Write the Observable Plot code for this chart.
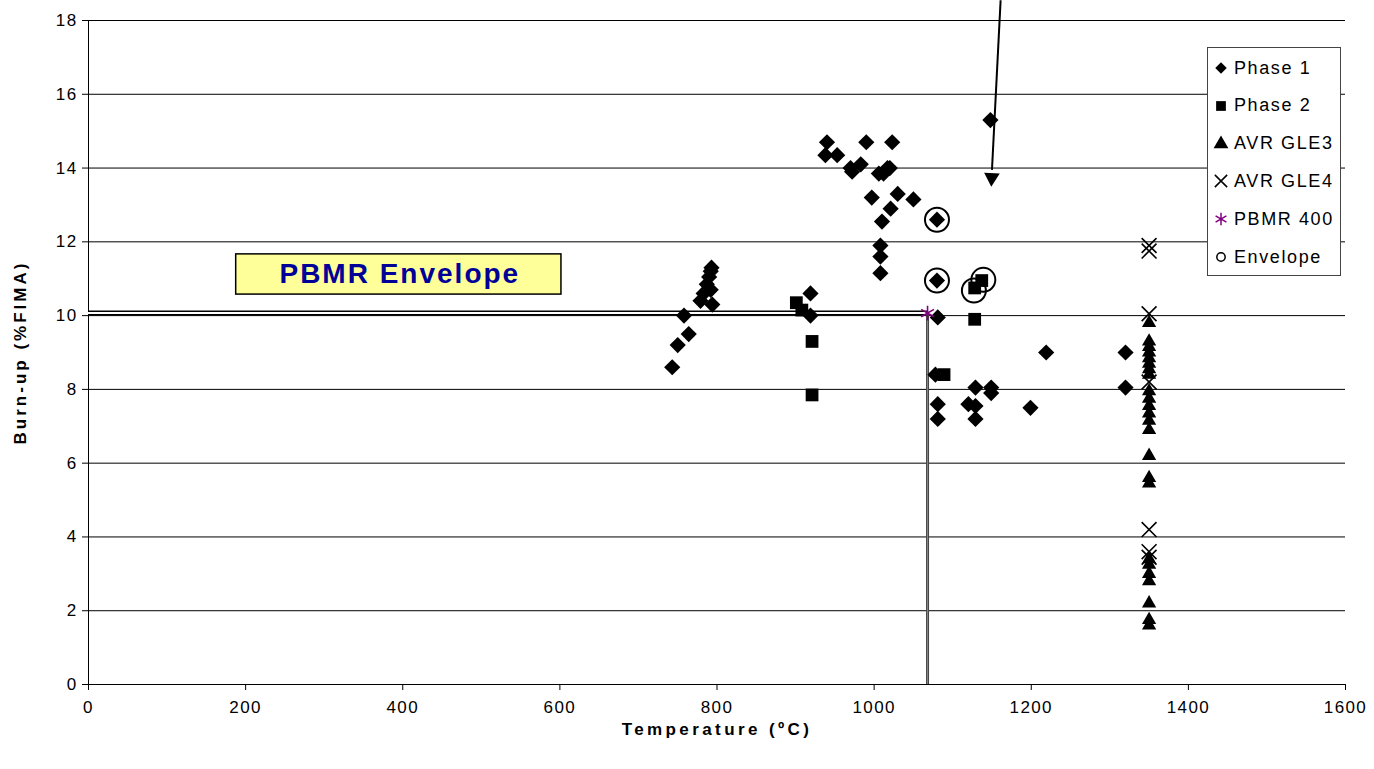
<!DOCTYPE html>
<html><head><meta charset="utf-8">
<script src="https://cdn.jsdelivr.net/npm/d3@7"></script>
<script src="https://cdn.jsdelivr.net/npm/@observablehq/plot@0.6"></script>
<style>
body{margin:0;background:#fff;font-family:"Liberation Sans",Arial,sans-serif;}
#wrap{position:relative;width:1374px;height:769px;overflow:hidden;}
#legend{position:absolute;left:1207px;top:47px;width:134px;height:229px;border:1px solid #444;background:#fff;box-sizing:border-box;}
.li{position:absolute;left:6px;height:20px;display:flex;align-items:center;font-size:18px;letter-spacing:1.6px;color:#000;white-space:nowrap;}
.li svg{margin-right:6px;overflow:visible;}
</style></head><body><div id="wrap"></div>
<script>
// ---- data (temperature °C, burn-up %FIMA) ----
const xTicks = [0, 200, 400, 600, 800, 1000, 1200, 1400, 1600];
const yTicks = [0, 2, 4, 6, 8, 10, 12, 14, 16, 18];
const seriesNames = ["Phase 1", "Phase 2", "AVR GLE3", "AVR GLE4", "PBMR 400", "Envelope"];

const phase1 = [
  [743, 8.6], [750, 9.2], [764, 9.5], [758, 10.0], [779, 10.4], [794, 10.3],
  [783, 10.6], [792, 10.7], [787, 10.85], [790, 11.05], [792, 11.2], [793, 11.3],
  [919, 10.6], [919, 10.0],
  [940, 14.7], [990, 14.7], [1023, 14.7], [938, 14.35], [953, 14.35], [970, 14.0],
  [972, 13.9], [983, 14.1], [1006, 13.85], [1017, 14.0], [1020, 14.0], [1012, 13.85],
  [997, 13.2], [1030, 13.3], [1050, 13.15], [1021, 12.9], [1010, 12.55],
  [1008, 11.9], [1008, 11.6], [1008, 11.15],
  [1080, 12.6], [1080, 10.95], [1081, 9.95], [1078, 8.4], [1081, 7.6], [1081, 7.2],
  [1120, 7.6], [1129, 7.55], [1129, 7.2], [1129, 8.05], [1149, 8.05], [1149, 7.9],
  [1199, 7.5], [1219, 9.0], [1148, 15.3], [1320, 9.0], [1320, 8.05]
];
const phase2 = [
  [901, 10.35], [908, 10.15], [921, 9.3], [921, 7.85], [1089, 8.4],
  [1128, 9.9], [1128, 10.75], [1137, 10.95]
];
const gle3Temp = 1350;
const gle3Burnup = [9.8, 9.3, 9.15, 9.0, 8.85, 8.7, 8.55, 8.4, 7.95, 7.75, 7.55, 7.35,
  7.15, 6.9, 6.2, 5.6, 5.45, 3.4, 3.25, 3.0, 2.8, 2.2, 1.75, 1.6];
const gle4Temp = 1350;
const gle4Burnup = [11.9, 11.75, 10.05, 8.2, 4.2, 3.6, 3.45];
const pbmr400 = [[1068, 10.07]];
const envelope = [[1080, 12.6], [1080, 10.95], [1127, 10.68], [1139, 10.97]];

// ---- chart ----
const font = '"Liberation Sans", Arial, sans-serif';
const chart = Plot.plot({
  width: 1374, height: 769,
  marginTop: 20, marginBottom: 85, marginLeft: 88, marginRight: 29,
  style: {fontFamily: font, fontSize: "16px", color: "#000", background: "#fff", overflow: "visible"},
  x: {domain: [0, 1600]},
  y: {domain: [0, 18]},
  marks: [
    Plot.gridY(yTicks, {stroke: "#000", strokeOpacity: 1, strokeWidth: 1}),
    Plot.axisY(yTicks, {tickSize: 6, tickPadding: 5, label: null, fontSize: 17, tickFormat: d => String(d)}),
    Plot.axisX(xTicks, {tickSize: 6, tickPadding: 10, label: null, fontSize: 17, tickFormat: d => String(d)}),
    Plot.ruleX([0], {stroke: "#000"}),
    Plot.ruleY([0], {stroke: "#000"}),
    // PBMR envelope boundary (double lines)
    Plot.ruleY(pbmr400, {y: d => d[1], x1: 0, x2: d => d[0], stroke: "#000", strokeWidth: 5}),
    Plot.ruleY(pbmr400, {y: d => d[1], x1: 0, x2: d => d[0], stroke: "#fff", strokeWidth: 2}),
    Plot.ruleX(pbmr400, {x: d => d[0], y1: 0, y2: d => d[1], stroke: "#444", strokeWidth: 3}),
    Plot.ruleX(pbmr400, {x: d => d[0], y1: 0, y2: d => d[1], stroke: "#888", strokeWidth: 1}),
    // label box
    Plot.rect([0], {x1: 188, x2: 602, y1: 10.57, y2: 11.66, fill: "#ffff99", stroke: "#000", strokeWidth: 1.5}),
    Plot.text(["PBMR Envelope"], {x: 395, y: 11.115, fontSize: 28, fontWeight: "bold", fill: "#000099", dx: 1}),
    // series
    Plot.dot(phase1, {x: d => d[0], y: d => d[1], symbol: "diamond2", r: 7.3, fill: "#000", stroke: "none"}),
    Plot.dot(phase2, {x: d => d[0], y: d => d[1], symbol: "square", r: 7.2, fill: "#000", stroke: "none"}),
    Plot.dot(gle3Burnup, {x: () => gle3Temp, y: d => d, symbol: "triangle", r: 5.3, fill: "#000", stroke: "none"}),
    Plot.dot(gle4Burnup, {x: () => gle4Temp, y: d => d, symbol: "times", r: 6.8, stroke: "#000", strokeWidth: 1.6}),
    Plot.dot(pbmr400, {x: d => d[0], y: d => d[1], symbol: "asterisk", r: 7, stroke: "#800080", strokeWidth: 1.6}),
    Plot.dot(envelope, {x: d => d[0], y: d => d[1], symbol: "circle", r: 12, stroke: "#000", strokeWidth: 2, fill: "none"}),
    // arrow
    Plot.link([0], {x1: 1161, y1: 18.55, x2: 1150, y2: 13.95, stroke: "#000", strokeWidth: 2}),
    Plot.dot([0], {x: 1149.7, y: 13.74, symbol: "triangle", r: 5.8, fill: "#000", stroke: "none", rotate: 182.8}),
    // axis titles
    Plot.text(["Burn-up (%FIMA)"], {frameAnchor: "left", textAnchor: "middle", dx: -68, rotate: -90, fontSize: 17, fontWeight: "bold"}),
    Plot.text(["Temperature (ºC)"], {frameAnchor: "bottom", textAnchor: "middle", dy: 50, fontSize: 17, fontWeight: "bold"})
  ]
});
const wrap = document.getElementById("wrap");
wrap.appendChild(chart);

// letter spacing to match the wide text of the reference
const sel = d3.select(chart);
sel.selectAll('g[aria-label="x-axis tick label"] text, g[aria-label="y-axis tick label"] text')
  .attr("letter-spacing", "1.4px");
sel.selectAll("text").each(function () {
  const t = this.textContent;
  if (t === "Temperature (ºC)") this.setAttribute("letter-spacing", "3.4px");
  if (t === "Burn-up (%FIMA)") this.setAttribute("letter-spacing", "3px");
  if (t === "PBMR Envelope") this.setAttribute("letter-spacing", "2px");
});

// ---- legend ----
const legend = document.createElement("div");
legend.id = "legend";
const legendSym = [
  {sym: d3.symbolDiamond2, size: 85, fill: "#000", stroke: "none"},
  {sym: d3.symbolSquare, size: 95, fill: "#000", stroke: "none"},
  {sym: d3.symbolTriangle, size: 95, fill: "#000", stroke: "none"},
  {sym: d3.symbolTimes, size: 100, fill: "none", stroke: "#000"},
  {sym: d3.symbolAsterisk, size: 110, fill: "none", stroke: "#800080"},
  {sym: d3.symbolCircle, size: 55, fill: "none", stroke: "#000"}
];
seriesNames.forEach((name, i) => {
  const row = document.createElement("div");
  row.className = "li";
  row.style.top = (10 + i * 37.8) + "px";
  const s = legendSym[i];
  const path = d3.symbol(s.sym, s.size)();
  row.innerHTML = `<svg width="14" height="14" viewBox="-7 -7 14 14"><path d="${path}" fill="${s.fill}" stroke="${s.stroke}" stroke-width="1.5"/></svg><span>${name}</span>`;
  legend.appendChild(row);
});
wrap.appendChild(legend);
</script>
</body></html>
